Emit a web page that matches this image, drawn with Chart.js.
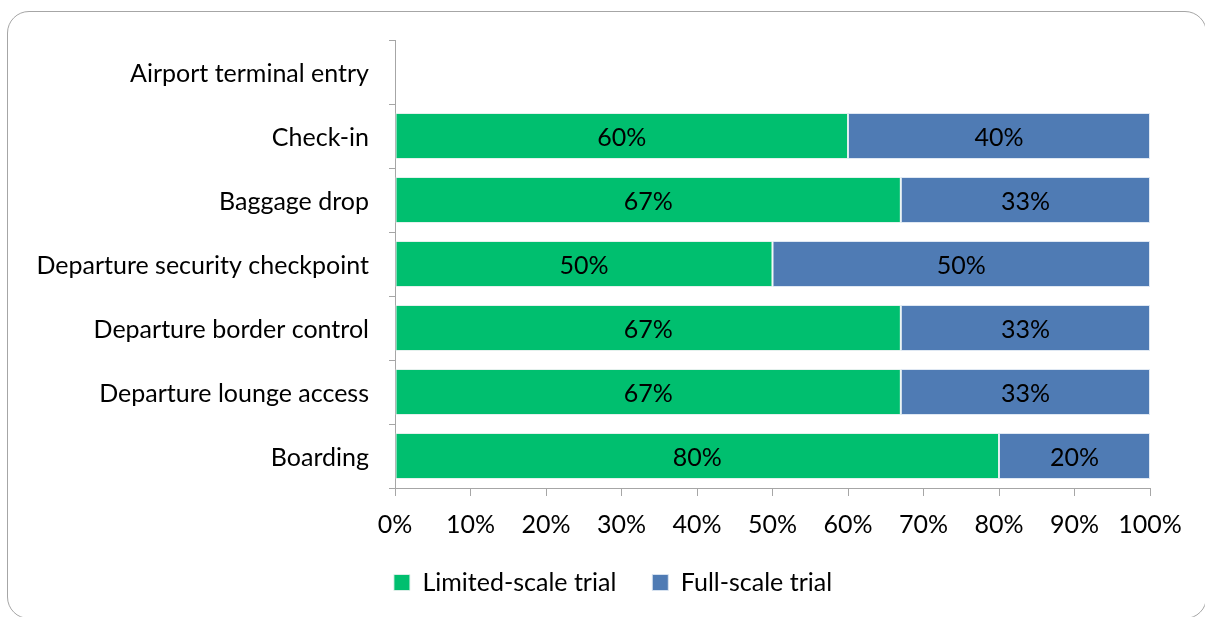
<!DOCTYPE html>
<html>
<head>
<meta charset="utf-8">
<script src="https://cdn.jsdelivr.net/npm/chart.js@4"></script>
<style>
  html, body { margin: 0; padding: 0; background: #fff; overflow: hidden; }
  #wrap { position: relative; width: 1205px; height: 617px; }
  #frame {
    position: absolute; left: 7px; top: 11px; width: 1200px; height: 608px;
    border: 1.5px solid #a6a6a6; border-radius: 22px; box-sizing: border-box;
  }
  canvas { position: absolute; left: 0; top: 0; }
</style>
</head>
<body>
<div id="wrap">
  <div id="frame"></div>
  <canvas id="stages" width="1205" height="617"></canvas>
</div>
<script>
    // Touchpoints, top to bottom
    const stages = [
        'Airport terminal entry',
        'Check-in',
        'Baggage drop',
        'Departure security checkpoint',
        'Departure border control',
        'Departure lounge access',
        'Boarding'
    ];
    // Share of trials per touchpoint (%)
    const limitedScale = [null, 60, 67, 50, 67, 67, 80];
    const fullScale = [null, 40, 33, 50, 33, 33, 20];
    const xTicks = [0, 10, 20, 30, 40, 50, 60, 70, 80, 90, 100];

    const fontFamily = 'Lato, "Noto Sans", sans-serif';
    const fontSize = 25;
    const axisGray = '#a6a6a6';

    // Write the percentage in the middle of each segment
    const segmentLabels = {
        id: 'segmentLabels',
        afterDatasetsDraw(chart) {
            const ctx = chart.ctx;
            ctx.save();
            ctx.font = fontSize + 'px ' + fontFamily;
            ctx.fillStyle = '#000';
            ctx.textAlign = 'center';
            ctx.textBaseline = 'middle';
            chart.data.datasets.forEach(function(ds, i) {
                chart.getDatasetMeta(i).data.forEach(function(bar, j) {
                    const v = ds.data[j];
                    if (v === null || v === undefined) return;
                    const cx = (bar.x + bar.base) / 2;
                    ctx.fillText(v + '%', cx, bar.y + 2);
                });
            });
            ctx.restore();
        }
    };

    // Nudge the legend a bit right of the canvas centre
    const legendShift = {
        id: 'legendShift',
        afterLayout(chart) {
            chart.legend.left += 38;
            chart.legend.right += 38;
        }
    };

    const ctx = document.getElementById('stages').getContext('2d');
    const chart = new Chart(ctx, {
        type: 'bar',
        data: {
            labels: stages,
            datasets: [{
                label: 'Limited-scale trial',
                data: limitedScale,
                backgroundColor: '#00bf6f',
                borderColor: 'rgba(225, 240, 235, 0.9)',
                borderWidth: 1,
                borderSkipped: false,
                barPercentage: 0.72,
                categoryPercentage: 1
            }, {
                label: 'Full-scale trial',
                data: fullScale,
                backgroundColor: '#4f7bb4',
                borderColor: 'rgba(220, 230, 242, 0.9)',
                borderWidth: 1,
                borderSkipped: false,
                barPercentage: 0.72,
                categoryPercentage: 1
            }]
        },
        options: {
            indexAxis: 'y',
            responsive: false,
            animation: false,
            layout: {
                padding: { left: 0, right: 55, top: 40, bottom: 12 }
            },
            scales: {
                x: {
                    stacked: true,
                    min: 0,
                    max: 100,
                    afterBuildTicks: function(scale) {
                        scale.ticks = xTicks.map(function(v) { return { value: v }; });
                    },
                    afterFit: function(scale) { scale.height = 46; },
                    ticks: {
                        color: '#000',
                        font: { family: fontFamily, size: fontSize },
                        padding: 14,
                        maxRotation: 0,
                        callback: function(v) { return v + '%'; }
                    },
                    grid: { drawOnChartArea: false, drawTicks: true, tickLength: 8, color: axisGray },
                    border: { color: axisGray, width: 1 }
                },
                y: {
                    stacked: true,
                    afterFit: function(scale) { scale.width = 395; },
                    ticks: {
                        color: '#000',
                        font: { family: fontFamily, size: fontSize },
                        padding: 20,
                        labelOffset: 2
                    },
                    grid: { offset: true, drawOnChartArea: false, drawTicks: true, tickLength: 6, color: axisGray },
                    border: { color: axisGray, width: 1 }
                }
            },
            plugins: {
                legend: {
                    position: 'bottom',
                    labels: {
                        color: '#000',
                        font: { family: fontFamily, size: fontSize },
                        boxWidth: 16,
                        boxHeight: 16,
                        padding: 36,
                        useBorderRadius: false
                    }
                },
                tooltip: { enabled: false }
            }
        },
        plugins: [segmentLabels, legendShift]
    });
</script>
</body>
</html>
